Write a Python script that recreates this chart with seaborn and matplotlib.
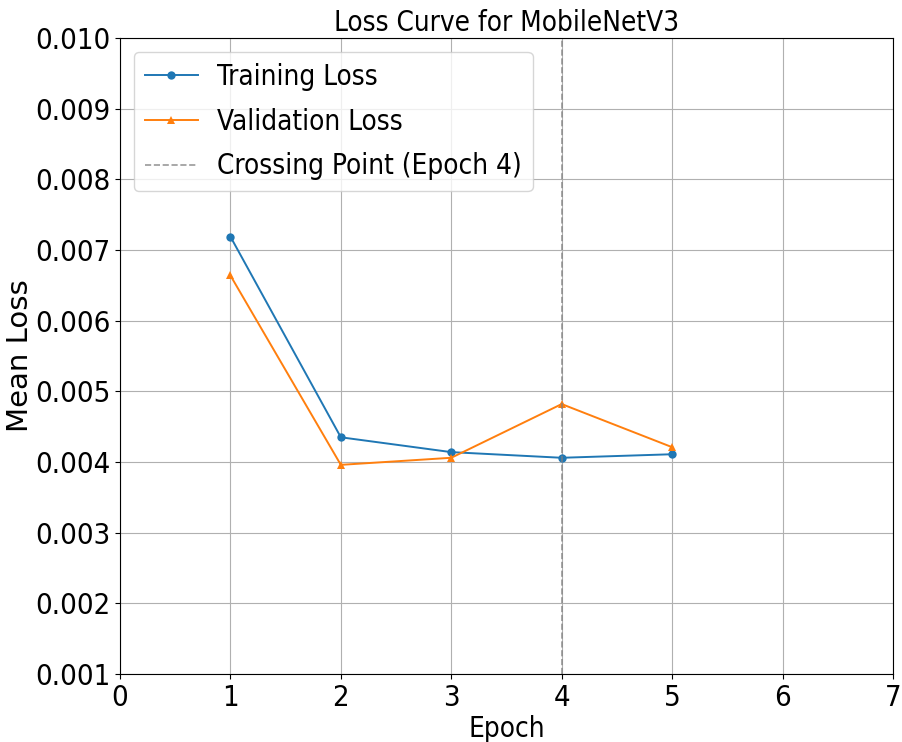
import matplotlib
matplotlib.use("Agg")
import matplotlib.pyplot as plt
import seaborn as sns
import pandas as pd

epochs = [1, 2, 3, 4, 5]
train_loss = [0.00719, 0.00435, 0.00414, 0.00406, 0.00411]
val_loss = [0.00664, 0.00396, 0.00406, 0.00482, 0.00421]
crossing_epoch = 4
y_ticks = [0.001, 0.002, 0.003, 0.004, 0.005, 0.006, 0.007, 0.008, 0.009, 0.010]
x_ticks = [0, 1, 2, 3, 4, 5, 6, 7]

plt.rcParams['font.family'] = ['DejaVu Sans']
plt.rcParams['font.stretch'] = 'condensed'

fig = plt.figure(figsize=(9.02, 7.42), dpi=100)
ax = fig.add_axes([0.133, 0.0916, 0.857, 0.8572])

df_t = pd.DataFrame({"Epoch": epochs, "Loss": train_loss})
df_v = pd.DataFrame({"Epoch": epochs, "Loss": val_loss})
sns.lineplot(data=df_t, x="Epoch", y="Loss", ax=ax, marker="o", markersize=6,
             color="#1f77b4", linewidth=1.4, markeredgewidth=0, label="Training Loss")
sns.lineplot(data=df_v, x="Epoch", y="Loss", ax=ax, marker="^", markersize=6,
             color="#ff7f0e", linewidth=1.4, markeredgewidth=0, label="Validation Loss")
ax.axvline(crossing_epoch, color="gray", linestyle="--", linewidth=1.2, alpha=0.8,
           label=f"Crossing Point (Epoch {crossing_epoch})")

ax.set_xlim(0, 7)
ax.set_ylim(0.001, 0.010)
ax.set_xticks(x_ticks)
ax.set_yticks(y_ticks)
ax.set_yticklabels([f"{v:.3f}" for v in y_ticks])
ax.tick_params(labelsize=21)
ax.grid(True, color="#b0b0b0", linewidth=0.8)
ax.set_axisbelow(True)
ax.set_title("Loss Curve for MobileNetV3", fontsize=20, pad=5)
ax.set_xlabel("Epoch", fontsize=20, labelpad=2)
ax.set_ylabel("Mean Loss", fontsize=21, fontstretch='normal')
ax.yaxis.set_label_coords(-0.111, 0.5)
ax.legend(loc="upper left", fontsize=20, handlelength=1.9, handletextpad=0.7,
          labelspacing=0.6)

fig.savefig("out.png", dpi=100)
